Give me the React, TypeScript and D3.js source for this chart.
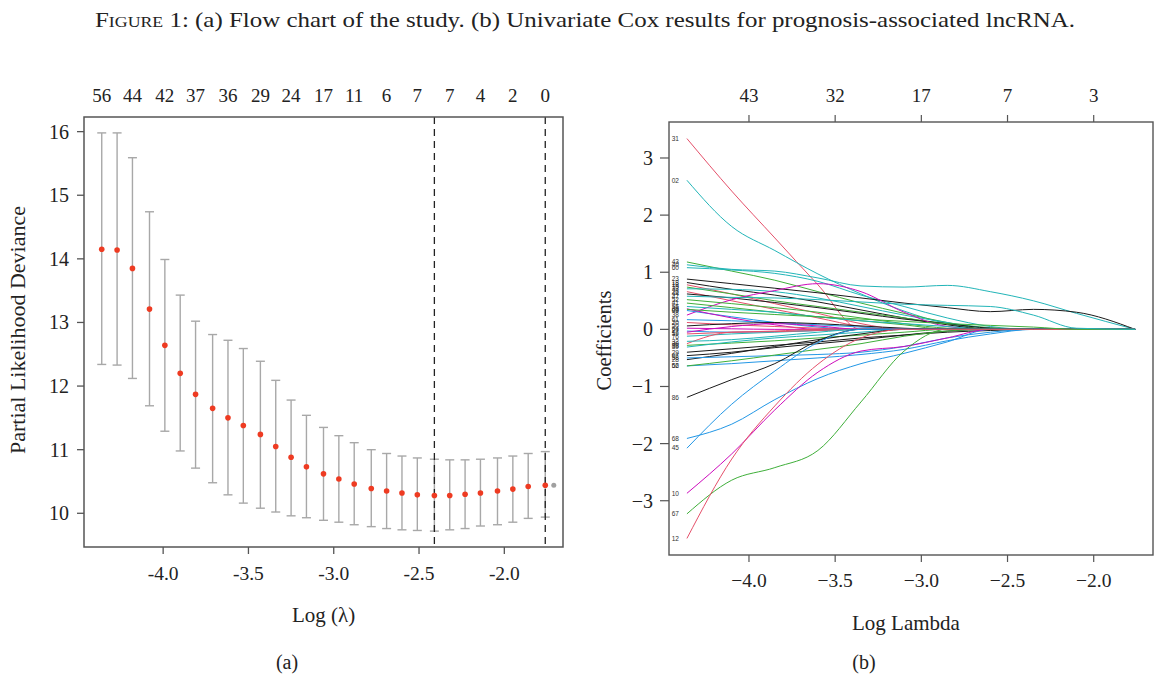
import React from "react";
import * as d3 from "d3";

// ---------- Panel (a): cross-validation curve ----------
const cvLogLambda = [-4.36, -4.27, -4.18, -4.08, -3.99, -3.90, -3.81, -3.71, -3.62, -3.53, -3.43, -3.34, -3.25, -3.16, -3.06, -2.97, -2.88, -2.78, -2.69, -2.60, -2.51, -2.41, -2.32, -2.23, -2.14, -2.04, -1.95, -1.86, -1.76];
const cvMean = [14.15, 14.14, 13.85, 13.21, 12.64, 12.20, 11.87, 11.65, 11.50, 11.38, 11.24, 11.05, 10.88, 10.73, 10.62, 10.54, 10.46, 10.39, 10.35, 10.32, 10.29, 10.28, 10.28, 10.30, 10.32, 10.35, 10.38, 10.42, 10.44];
const cvUpper = [15.98, 15.98, 15.59, 14.74, 13.99, 13.43, 13.02, 12.81, 12.72, 12.59, 12.39, 12.09, 11.78, 11.54, 11.35, 11.22, 11.11, 11.00, 10.94, 10.90, 10.87, 10.85, 10.84, 10.84, 10.85, 10.87, 10.90, 10.94, 10.97];
const cvLower = [12.34, 12.33, 12.12, 11.69, 11.29, 10.98, 10.71, 10.48, 10.29, 10.16, 10.08, 10.02, 9.96, 9.93, 9.89, 9.86, 9.82, 9.79, 9.76, 9.74, 9.73, 9.72, 9.74, 9.76, 9.80, 9.82, 9.86, 9.92, 9.94];
const cvNonzero = [56, 44, 42, 37, 36, 29, 24, 17, 11, 6, 7, 7, 4, 2, 0];
const cvExtraPoint = { x: -1.71, y: 10.44 };
const lambdaMin = -2.41;
const lambda1se = -1.76;
const aXDomain = [-4.464, -1.656];
const aYDomain = [9.47, 16.23];
const aXTicks = [-4.0, -3.5, -3.0, -2.5, -2.0];
const aYTicks = [10, 11, 12, 13, 14, 15, 16];

// ---------- Panel (b): coefficient paths ----------
const pathKnots = [-4.36, -4.1, -3.85, -3.6, -3.35, -3.1, -2.85, -2.6, -2.35, -2.1, -1.76];
const pathLabels = ["31", "02", "43", "40", "60", "23", "18", "13", "15", "33", "26", "44", "38", "52", "41", "55", "09", "36", "61", "20", "50", "64", "27", "59", "76", "17", "30", "32", "88", "39", "29", "07", "28", "56", "58", "62", "86", "68", "45", "10", "67", "12", "63", "47"];
const pathColorIdx = [1, 4, 2, 4, 4, 0, 0, 1, 2, 4, 1, 0, 5, 2, 2, 4, 3, 5, 3, 1, 0, 5, 3, 1, 4, 5, 1, 4, 2, 4, 0, 0, 0, 3, 3, 2, 0, 3, 3, 5, 2, 1, 2, 4];
const pathValues = [
  [3.34, 2.42, 1.60, 0.78, 0, 0, 0, 0, 0, 0, 0],
  [2.61, 1.80, 1.38, 0.97, 0.62, 0.32, 0.10, 0, 0, 0, 0],
  [1.18, 1.02, 0.86, 0.66, 0.46, 0.28, 0.12, 0, 0, 0, 0],
  [1.13, 1.05, 1.02, 0.90, 0.76, 0.74, 0.77, 0.66, 0.50, 0.28, 0],
  [1.08, 1.04, 0.98, 0.84, 0.60, 0.40, 0.20, 0.05, 0, 0, 0],
  [0.88, 0.80, 0.72, 0.64, 0.55, 0.46, 0.38, 0.31, 0.35, 0.30, 0],
  [0.82, 0.70, 0.60, 0.48, 0.34, 0.20, 0.08, 0, 0, 0, 0],
  [0.78, 0.62, 0.45, 0.28, 0.10, 0, 0, 0, 0, 0, 0],
  [0.74, 0.62, 0.50, 0.40, 0.30, 0.20, 0.10, 0.03, 0, 0, 0],
  [0.71, 0.70, 0.66, 0.55, 0.40, 0.25, 0.12, 0.02, 0, 0, 0],
  [0.66, 0.50, 0.35, 0.20, 0.05, 0, 0, 0, 0, 0, 0],
  [0.62, 0.55, 0.47, 0.38, 0.28, 0.18, 0.10, 0.02, 0, 0, 0],
  [0.25, 0.52, 0.68, 0.80, 0.66, 0.30, 0.05, 0, 0, 0, 0],
  [0.52, 0.45, 0.38, 0.30, 0.20, 0.10, 0.02, 0, 0, 0, 0],
  [0.46, 0.38, 0.30, 0.22, 0.15, 0.08, 0, 0, 0, 0, 0],
  [0.40, 0.35, 0.30, 0.22, 0.15, 0.10, 0.05, 0, 0, 0, 0],
  [0.33, 0.22, 0.12, 0.04, 0, 0, 0, 0, 0, 0, 0],
  [0.36, 0.20, 0.08, 0, 0, 0, 0, 0, 0, 0, 0],
  [0.17, 0.15, 0.12, 0.08, 0.04, 0, 0, 0, 0, 0, 0],
  [0.12, 0.08, 0.05, 0.02, 0, 0, 0, 0, 0, 0, 0],
  [0.06, 0.10, 0.12, 0.10, 0.06, 0.02, 0, 0, 0, 0, 0],
  [0.02, 0.01, 0, 0, 0, 0, 0, 0, 0, 0, 0],
  [-0.03, -0.05, -0.04, -0.02, 0, 0, 0, 0, 0, 0, 0],
  [-0.08, -0.05, -0.03, 0, 0, 0, 0, 0, 0, 0, 0],
  [-0.12, -0.08, -0.05, -0.02, 0, 0, 0, 0, 0, 0, 0],
  [-0.05, 0.05, 0.10, 0.06, 0, 0, 0, 0, 0, 0, 0],
  [-0.25, -0.05, -0.04, -0.02, 0, 0, 0, 0, 0, 0, 0],
  [-0.21, -0.18, -0.12, -0.05, 0, 0, 0, 0, 0, 0, 0],
  [-0.28, -0.24, -0.20, -0.15, -0.10, -0.05, 0, 0, 0, 0, 0],
  [-0.31, -0.22, -0.15, -0.10, -0.05, 0, 0, 0, 0, 0, 0],
  [-0.40, -0.34, -0.28, -0.22, -0.15, -0.10, -0.05, -0.02, 0, 0, 0],
  [-0.46, -0.40, -0.32, -0.25, -0.18, -0.10, -0.03, 0, 0, 0, 0],
  [-0.53, -0.42, -0.30, -0.18, -0.08, 0, 0, 0, 0, 0, 0],
  [-0.64, -0.60, -0.55, -0.50, -0.44, -0.35, -0.20, -0.08, 0, 0, 0],
  [-0.50, -0.48, -0.46, -0.44, -0.40, -0.30, -0.15, -0.05, 0, 0, 0],
  [-0.64, -0.55, -0.45, -0.35, -0.25, -0.12, -0.03, 0, 0, 0, 0],
  [-1.19, -0.88, -0.60, -0.20, 0, 0, 0, 0, 0, 0, 0],
  [-1.91, -1.66, -1.23, -0.86, -0.60, -0.42, -0.22, 0, 0, 0, 0],
  [-2.08, -1.31, -0.73, -0.23, 0, 0, 0, 0, 0, 0, 0],
  [-2.87, -2.18, -1.41, -0.75, -0.38, -0.30, -0.15, 0, 0, 0, 0],
  [-3.23, -2.64, -2.42, -2.12, -1.27, -0.38, 0, 0, 0, 0, 0],
  [-3.66, -2.27, -1.34, -0.61, -0.15, 0, 0, 0, 0, 0, 0],
  [0.35, 0.30, 0.26, 0.22, 0.18, 0.14, 0.10, 0.07, 0.04, 0, 0],
  [0.58, 0.56, 0.55, 0.52, 0.48, 0.44, 0.42, 0.40, 0.25, 0.02, 0],
];
const bXDomain = [-4.464, -1.656];
const bYDomain = [-3.95, 3.63];
const bXTicks = [-4.0, -3.5, -3.0, -2.5, -2.0];
const bYTicks = [-3, -2, -1, 0, 1, 2, 3];
const bTopCounts = [43, 32, 17, 7, 3];

const captionText = ": (a) Flow chart of the study. (b) Univariate Cox results for prognosis-associated lncRNA.";

// ---------- styles ----------
const PALETTE = ["#1a1a1a", "#E5506A", "#3FAF3A", "#2297E6", "#22B5B8", "#CD0BBC"];
const SERIF = "'Liberation Serif', 'DejaVu Serif', serif";
const SANS = "'Liberation Sans', 'DejaVu Sans', sans-serif";
const AXIS = "#555";
const TXT = "#222";

const fmtNeg = (v: number) => (v < 0 ? "\u2212" : "") + Math.abs(v).toFixed(1);

export default function App() {
  // panel a geometry
  const aL = 84, aR = 563, aT = 117, aB = 547;
  const xa = d3.scaleLinear().domain(aXDomain).range([aL, aR]);
  const ya = d3.scaleLinear().domain(aYDomain).range([aB, aT]);
  // panel b geometry
  const bL = 669, bR = 1153, bT = 122, bB = 555;
  const xb = d3.scaleLinear().domain(bXDomain).range([bL, bR]);
  const yb = d3.scaleLinear().domain(bYDomain).range([bB, bT]);

  const line = d3
    .line<[number, number]>()
    .x((d) => xb(d[0]))
    .y((d) => yb(d[1]))
    .curve(d3.curveMonotoneX);

  return (
    <svg
      width={1168}
      height={677}
      style={{ position: "absolute", left: 0, top: 0, background: "#fff" }}
    >
      <rect x={0} y={0} width={1168} height={677} fill="#fff" />
      {/* caption */}
      <text x={95} y={27} fontFamily={SERIF} fontSize={21} fill={TXT} textLength={980} lengthAdjust="spacingAndGlyphs">
        <tspan style={{ fontVariant: "small-caps" }}>Figure 1</tspan>
        {captionText}
      </text>

      {/* ================= Panel (a) ================= */}
      <g>
        {cvLogLambda.map((lx, i) => (
          <g key={"eb" + i} stroke="#a8a8a8" strokeWidth={1.4}>
            <line x1={xa(lx)} x2={xa(lx)} y1={ya(cvUpper[i])} y2={ya(cvLower[i])} />
            <line x1={xa(lx) - 4.5} x2={xa(lx) + 4.5} y1={ya(cvUpper[i])} y2={ya(cvUpper[i])} />
            <line x1={xa(lx) - 4.5} x2={xa(lx) + 4.5} y1={ya(cvLower[i])} y2={ya(cvLower[i])} />
          </g>
        ))}
        {[lambdaMin, lambda1se].map((v, i) => (
          <line key={"dl" + i} x1={xa(v)} x2={xa(v)} y1={aT} y2={aB} stroke="#222" strokeWidth={1.3} strokeDasharray="7,5" />
        ))}
        {cvLogLambda.map((lx, i) => (
          <circle key={"pt" + i} cx={xa(lx)} cy={ya(cvMean[i])} r={2.8} fill="#EE3B22" />
        ))}
        <circle cx={xa(cvExtraPoint.x)} cy={ya(cvExtraPoint.y)} r={2.5} fill="#a0a0a0" />
        <rect x={aL} y={aT} width={aR - aL} height={aB - aT} fill="none" stroke={AXIS} strokeWidth={1.5} />
        {aYTicks.map((t) => (
          <g key={"ay" + t}>
            <line x1={aL - 7} x2={aL} y1={ya(t)} y2={ya(t)} stroke={AXIS} strokeWidth={1.3} />
            <text x={aL - 15} y={ya(t) + 7} textAnchor="end" fontFamily={SERIF} fontSize={20} fill={TXT}>
              {t}
            </text>
          </g>
        ))}
        {aXTicks.map((t) => (
          <g key={"ax" + t}>
            <line x1={xa(t)} x2={xa(t)} y1={aB} y2={aB + 7} stroke={AXIS} strokeWidth={1.3} />
            <text x={xa(t)} y={aB + 33} textAnchor="middle" fontFamily={SERIF} fontSize={19.5} fill={TXT}>
              {t.toFixed(1)}
            </text>
          </g>
        ))}
        {cvNonzero.map((n, i) => (
          <text key={"an" + i} x={xa(cvLogLambda[i * 2])} y={102} textAnchor="middle" fontFamily={SERIF} fontSize={19} fill={TXT}>
            {n}
          </text>
        ))}
        <text x={(aL + aR) / 2} y={622} textAnchor="middle" fontFamily={SERIF} fontSize={21} fill={TXT}>
          Log (λ)
        </text>
        <text transform={`translate(25,${(aT + aB) / 2 - 2}) rotate(-90)`} textAnchor="middle" fontFamily={SERIF} fontSize={22} fill={TXT}>
          Partial Likelihood Deviance
        </text>
        <text x={287} y={669} textAnchor="middle" fontFamily={SERIF} fontSize={20} fill={TXT}>
          (a)
        </text>
      </g>

      {/* ================= Panel (b) ================= */}
      <g>
        <defs>
          <clipPath id="clipb">
            <rect x={bL} y={bT} width={bR - bL} height={bB - bT} />
          </clipPath>
        </defs>
        <g clipPath="url(#clipb)">
          {pathValues.map((vals, i) => (
            <path
              key={"p" + i}
              d={line(pathKnots.map((k, j) => [k, vals[j]] as [number, number])) || ""}
              fill="none"
              stroke={PALETTE[pathColorIdx[i]]}
              strokeWidth={1}
            />
          ))}
        </g>
        {pathValues.map((vals, i) => (
          <text key={"pl" + i} x={xb(pathKnots[0]) - 8} y={yb(vals[0]) + 2.3} textAnchor="end" fontFamily={SANS} fontSize={6.5} fill="#333">
            {pathLabels[i]}
          </text>
        ))}
        <rect x={bL} y={bT} width={bR - bL} height={bB - bT} fill="none" stroke={AXIS} strokeWidth={1.4} />
        {bYTicks.map((t) => (
          <g key={"by" + t}>
            <line x1={bL - 9} x2={bL} y1={yb(t)} y2={yb(t)} stroke={AXIS} strokeWidth={1.2} />
            <text x={bL - 16} y={yb(t) + 7} textAnchor="end" fontFamily={SERIF} fontSize={20} fill={TXT}>
              {t < 0 ? "\u2212" + Math.abs(t) : t}
            </text>
          </g>
        ))}
        {bXTicks.map((t) => (
          <g key={"bx" + t}>
            <line x1={xb(t)} x2={xb(t)} y1={bB} y2={bB + 7} stroke={AXIS} strokeWidth={1.2} />
            <text x={xb(t)} y={bB + 32} textAnchor="middle" fontFamily={SERIF} fontSize={19.5} fill={TXT}>
              {fmtNeg(t)}
            </text>
          </g>
        ))}
        {bXTicks.map((t, i) => (
          <g key={"bt" + t}>
            <line x1={xb(t)} x2={xb(t)} y1={bT} y2={bT - 7} stroke={AXIS} strokeWidth={1.2} />
            <text x={xb(t)} y={102} textAnchor="middle" fontFamily={SERIF} fontSize={19} fill={TXT}>
              {bTopCounts[i]}
            </text>
          </g>
        ))}
        <text x={(bL + bR) / 2 - 5} y={630} textAnchor="middle" fontFamily={SERIF} fontSize={21} fill={TXT}>
          Log Lambda
        </text>
        <text transform={`translate(611,${(bT + bB) / 2 + 2}) rotate(-90)`} textAnchor="middle" fontFamily={SERIF} fontSize={20.5} fill={TXT}>
          Coefficients
        </text>
        <text x={864} y={669} textAnchor="middle" fontFamily={SERIF} fontSize={20} fill={TXT}>
          (b)
        </text>
      </g>
    </svg>
  );
}
